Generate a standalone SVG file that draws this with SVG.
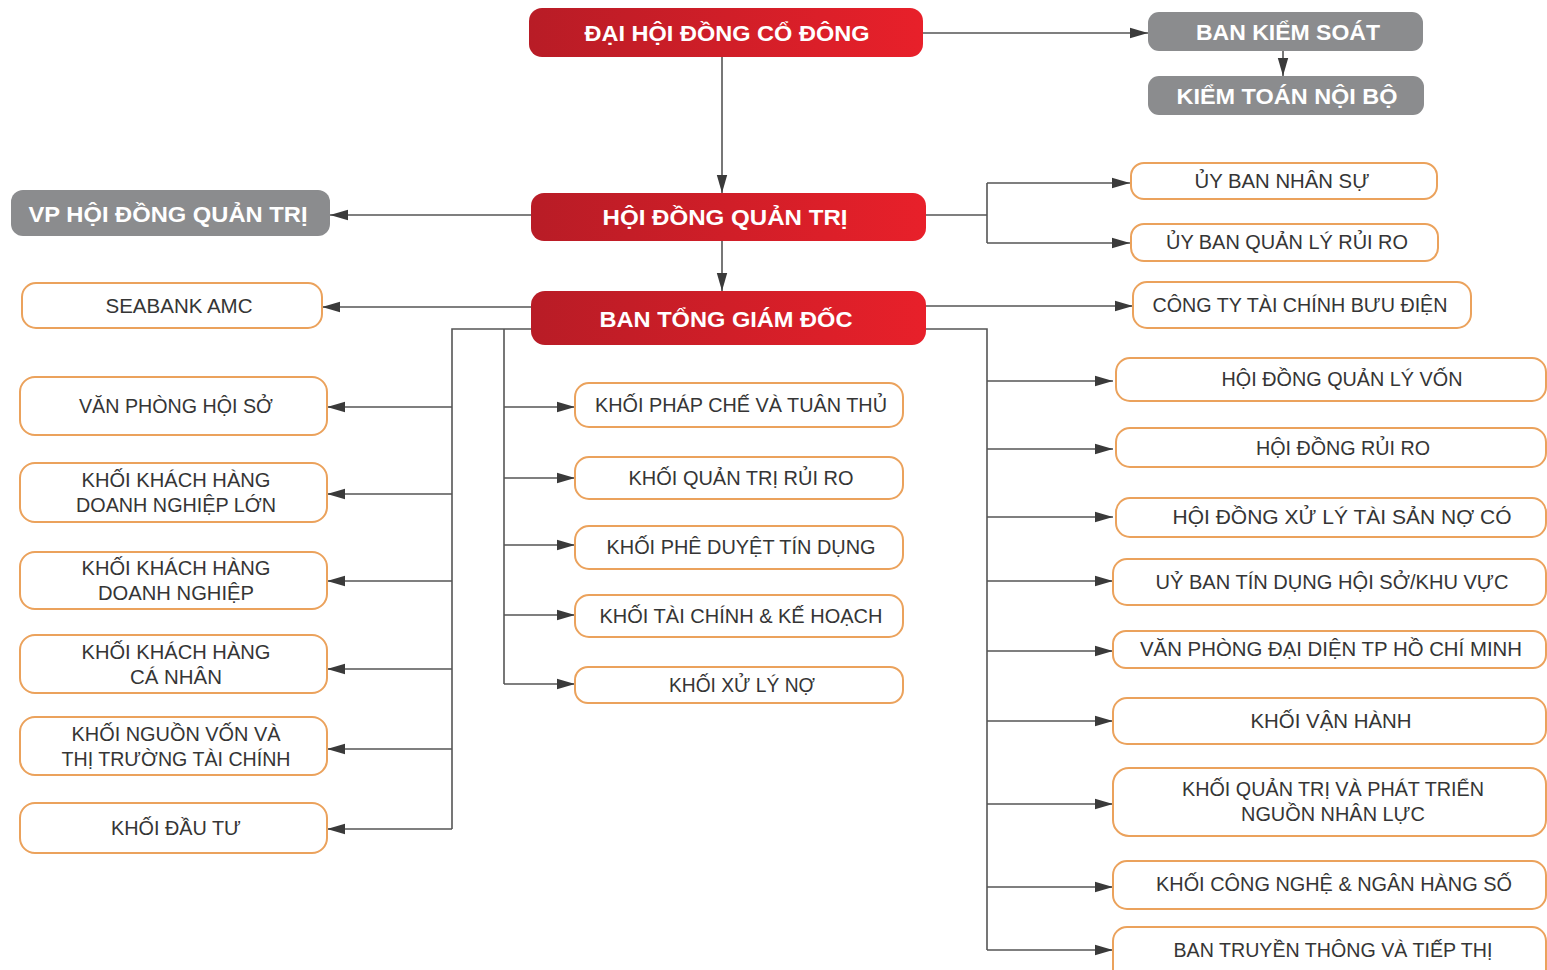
<svg xmlns="http://www.w3.org/2000/svg" width="1547" height="970" viewBox="0 0 1547 970">
<defs>
<linearGradient id="red" x1="0" y1="0" x2="1" y2="0">
<stop offset="0" stop-color="#b81c26"/>
<stop offset="1" stop-color="#e8202a"/>
</linearGradient>
<marker id="arr" markerUnits="userSpaceOnUse" markerWidth="20" markerHeight="12" refX="18" refY="6" orient="auto">
<path d="M0,0.8 L18,6 L0,11.2 Z" fill="#3a3a3a"/>
</marker>
</defs>
<style>
.red{fill:url(#red)}
.gray{fill:#8b8c8e}
.box{fill:#fff;stroke:#eba25c;stroke-width:2}
.bt{font-family:"Liberation Sans",Arial,sans-serif;font-weight:bold;font-size:22px;fill:#fff;text-anchor:middle}
.t{font-family:"Liberation Sans",Arial,sans-serif;font-size:20px;fill:#353535;text-anchor:middle}
.c{fill:none;stroke:#555;stroke-width:1.6}
.a{marker-end:url(#arr)}
</style>
<rect width="1547" height="970" fill="#fff"/>
<g id="connectors">
<path class="c a" d="M923,33 H1148"/>
<path class="c a" d="M1283,51 V76"/>
<path class="c a" d="M722,57 V193"/>
<path class="c a" d="M531,215 H330"/>
<path class="c a" d="M722,241 V291"/>
<path class="c" d="M926,215 H987 M987,183 V243"/>
<path class="c a" d="M987,183 H1130"/>
<path class="c a" d="M987,243 H1130"/>
<path class="c a" d="M531,307 H322"/>
<path class="c a" d="M926,306 H1133"/>
<path class="c" d="M926,329 H987 V950"/>
<path class="c a" d="M987,381 H1113"/>
<path class="c a" d="M987,449 H1113"/>
<path class="c a" d="M987,517 H1113"/>
<path class="c a" d="M987,581 H1113"/>
<path class="c a" d="M987,651 H1113"/>
<path class="c a" d="M987,721 H1113"/>
<path class="c a" d="M987,804 H1113"/>
<path class="c a" d="M987,887 H1113"/>
<path class="c a" d="M987,950 H1113"/>
<path class="c" d="M531,329 H452 V829"/>
<path class="c a" d="M452,407 H327"/>
<path class="c a" d="M452,494 H327"/>
<path class="c a" d="M452,581 H327"/>
<path class="c a" d="M452,669 H327"/>
<path class="c a" d="M452,749 H327"/>
<path class="c a" d="M452,829 H327"/>
<path class="c" d="M504,329 V684"/>
<path class="c a" d="M504,407 H575"/>
<path class="c a" d="M504,478 H575"/>
<path class="c a" d="M504,545 H575"/>
<path class="c a" d="M504,615 H575"/>
<path class="c a" d="M504,684 H575"/>
</g>
<g id="dhdcd"><rect class="red" x="529" y="8" width="394" height="49" rx="13"/><text class="bt" x="727" y="41" textLength="285" lengthAdjust="spacingAndGlyphs">ĐẠI HỘI ĐỒNG CỔ ĐÔNG</text></g>
<g id="bks"><rect class="gray" x="1148" y="12" width="275" height="39" rx="11"/><text class="bt" x="1288" y="40" textLength="184" lengthAdjust="spacingAndGlyphs">BAN KIỂM SOÁT</text></g>
<g id="ktnb"><rect class="gray" x="1148" y="76" width="276" height="39" rx="11"/><text class="bt" x="1287" y="104" textLength="221" lengthAdjust="spacingAndGlyphs">KIỂM TOÁN NỘI BỘ</text></g>
<g id="hdqt"><rect class="red" x="531" y="193" width="395" height="48" rx="13"/><text class="bt" x="725" y="225" textLength="245" lengthAdjust="spacingAndGlyphs">HỘI ĐỒNG QUẢN TRỊ</text></g>
<g id="vphdqt"><rect class="gray" x="11" y="190" width="319" height="46" rx="12"/><text class="bt" x="168" y="222" textLength="279" lengthAdjust="spacingAndGlyphs">VP HỘI ĐỒNG QUẢN TRỊ</text></g>
<g id="btgd"><rect class="red" x="531" y="291" width="395" height="54" rx="14"/><text class="bt" x="726" y="327" textLength="253" lengthAdjust="spacingAndGlyphs">BAN TỔNG GIÁM ĐỐC</text></g>
<g id="ubns"><rect class="box" x="1131" y="163" width="306" height="36" rx="13"/><text class="t" x="1282" y="188" textLength="175" lengthAdjust="spacingAndGlyphs">ỦY BAN NHÂN SỰ</text></g>
<g id="ubqlrr"><rect class="box" x="1131" y="224" width="307" height="37" rx="13"/><text class="t" x="1287" y="249" textLength="242" lengthAdjust="spacingAndGlyphs">ỦY BAN QUẢN LÝ RỦI RO</text></g>
<g id="cttc"><rect class="box" x="1133" y="282" width="338" height="46" rx="14"/><text class="t" x="1300" y="312" textLength="295" lengthAdjust="spacingAndGlyphs">CÔNG TY TÀI CHÍNH BƯU ĐIỆN</text></g>
<g id="seabank"><rect class="box" x="22" y="283" width="300" height="45" rx="14"/><text class="t" x="179" y="313" textLength="147" lengthAdjust="spacingAndGlyphs">SEABANK AMC</text></g>
<g id="vphs"><rect class="box" x="20" y="377" width="307" height="58" rx="15"/><text class="t" x="176" y="413" textLength="194" lengthAdjust="spacingAndGlyphs">VĂN PHÒNG HỘI SỞ</text></g>
<g id="khdnl"><rect class="box" x="20" y="463" width="307" height="59" rx="15"/><text class="t" x="176" y="487" textLength="189" lengthAdjust="spacingAndGlyphs">KHỐI KHÁCH HÀNG</text><text class="t" x="176" y="512" textLength="200" lengthAdjust="spacingAndGlyphs">DOANH NGHIỆP LỚN</text></g>
<g id="khdn"><rect class="box" x="20" y="552" width="307" height="57" rx="15"/><text class="t" x="176" y="575" textLength="189" lengthAdjust="spacingAndGlyphs">KHỐI KHÁCH HÀNG</text><text class="t" x="176" y="600" textLength="156" lengthAdjust="spacingAndGlyphs">DOANH NGHIỆP</text></g>
<g id="khcn"><rect class="box" x="20" y="635" width="307" height="58" rx="15"/><text class="t" x="176" y="659" textLength="189" lengthAdjust="spacingAndGlyphs">KHỐI KHÁCH HÀNG</text><text class="t" x="176" y="684" textLength="92" lengthAdjust="spacingAndGlyphs">CÁ NHÂN</text></g>
<g id="nguonvon"><rect class="box" x="20" y="717" width="307" height="58" rx="15"/><text class="t" x="176" y="741" textLength="209" lengthAdjust="spacingAndGlyphs">KHỐI NGUỒN VỐN VÀ</text><text class="t" x="176" y="766" textLength="229" lengthAdjust="spacingAndGlyphs">THỊ TRƯỜNG TÀI CHÍNH</text></g>
<g id="dautu"><rect class="box" x="20" y="803" width="307" height="50" rx="15"/><text class="t" x="176" y="835" textLength="130" lengthAdjust="spacingAndGlyphs">KHỐI ĐẦU TƯ</text></g>
<g id="phapche"><rect class="box" x="575" y="383" width="328" height="44" rx="14"/><text class="t" x="741" y="412" textLength="292" lengthAdjust="spacingAndGlyphs">KHỐI PHÁP CHẾ VÀ TUÂN THỦ</text></g>
<g id="qtrr"><rect class="box" x="575" y="457" width="328" height="42" rx="14"/><text class="t" x="741" y="485" textLength="225" lengthAdjust="spacingAndGlyphs">KHỐI QUẢN TRỊ RỦI RO</text></g>
<g id="pheduyet"><rect class="box" x="575" y="526" width="328" height="43" rx="14"/><text class="t" x="741" y="554" textLength="269" lengthAdjust="spacingAndGlyphs">KHỐI PHÊ DUYỆT TÍN DỤNG</text></g>
<g id="taichinh"><rect class="box" x="575" y="595" width="328" height="42" rx="14"/><text class="t" x="741" y="623" textLength="283" lengthAdjust="spacingAndGlyphs">KHỐI TÀI CHÍNH &amp; KẾ HOẠCH</text></g>
<g id="xulyno"><rect class="box" x="575" y="667" width="328" height="36" rx="13"/><text class="t" x="742" y="692" textLength="146" lengthAdjust="spacingAndGlyphs">KHỐI XỬ LÝ NỢ</text></g>
<g id="hdqlv"><rect class="box" x="1116" y="358" width="430" height="43" rx="14"/><text class="t" x="1342" y="386" textLength="241" lengthAdjust="spacingAndGlyphs">HỘI ĐỒNG QUẢN LÝ VỐN</text></g>
<g id="hdrr"><rect class="box" x="1116" y="428" width="430" height="39" rx="14"/><text class="t" x="1343" y="455" textLength="174" lengthAdjust="spacingAndGlyphs">HỘI ĐỒNG RỦI RO</text></g>
<g id="hdxl"><rect class="box" x="1116" y="498" width="430" height="39" rx="14"/><text class="t" x="1342" y="524" textLength="339" lengthAdjust="spacingAndGlyphs">HỘI ĐỒNG XỬ LÝ TÀI SẢN NỢ CÓ</text></g>
<g id="ubtd"><rect class="box" x="1113" y="559" width="433" height="46" rx="14"/><text class="t" x="1332" y="589" textLength="353" lengthAdjust="spacingAndGlyphs">UỶ BAN TÍN DỤNG HỘI SỞ/KHU VỰC</text></g>
<g id="vpdd"><rect class="box" x="1113" y="631" width="433" height="37" rx="13"/><text class="t" x="1331" y="656" textLength="382" lengthAdjust="spacingAndGlyphs">VĂN PHÒNG ĐẠI DIỆN TP HỒ CHÍ MINH</text></g>
<g id="vanhanh"><rect class="box" x="1113" y="698" width="433" height="46" rx="14"/><text class="t" x="1331" y="728" textLength="161" lengthAdjust="spacingAndGlyphs">KHỐI VẬN HÀNH</text></g>
<g id="nnl"><rect class="box" x="1113" y="768" width="433" height="68" rx="16"/><text class="t" x="1333" y="796" textLength="302" lengthAdjust="spacingAndGlyphs">KHỐI QUẢN TRỊ VÀ PHÁT TRIỂN</text><text class="t" x="1333" y="821" textLength="184" lengthAdjust="spacingAndGlyphs">NGUỒN NHÂN LỰC</text></g>
<g id="congnghe"><rect class="box" x="1113" y="861" width="433" height="48" rx="14"/><text class="t" x="1334" y="891" textLength="356" lengthAdjust="spacingAndGlyphs">KHỐI CÔNG NGHỆ &amp; NGÂN HÀNG SỐ</text></g>
<g id="truyenthong"><rect class="box" x="1113" y="927" width="433" height="60" rx="14"/><text class="t" x="1333" y="957" textLength="319" lengthAdjust="spacingAndGlyphs">BAN TRUYỀN THÔNG VÀ TIẾP THỊ</text></g>
</svg>
